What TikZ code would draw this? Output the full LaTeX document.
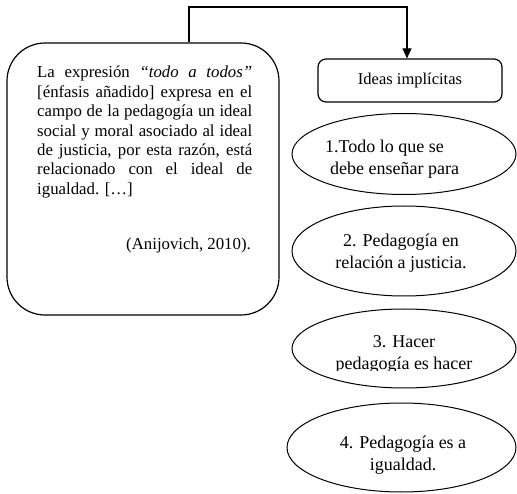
\documentclass[tikz,border=0pt]{standalone}
\usepackage{fontspec}
\setmainfont{Liberation Serif}
\usetikzlibrary{arrows.meta,shapes.geometric}
\begin{document}
\begin{tikzpicture}[x=1pt,y=-1pt,
  bigbox/.style={draw, line width=1.2pt, rounded corners=38pt, minimum width=272pt, minimum height=272pt, inner sep=0pt},
  ideabox/.style={draw, line width=1.2pt, rounded corners=8pt, minimum width=184pt, minimum height=43pt, inner sep=0pt, font=\fontsize{16.5}{19}\selectfont},
  oval/.style={draw, ellipse, line width=1pt, inner sep=0pt},
  etext/.style={inner sep=0pt, font=\fontsize{18}{22}\selectfont},
  qtext/.style={inner sep=0pt, font=\fontsize{16.8}{19.4}\selectfont},
  conn/.style={line width=1.2pt, -{Triangle[length=10pt,width=9pt]}}
]
\fill[white] (0,0) rectangle (517,494);
\useasboundingbox (0,0) rectangle (517,494);

% left quotation box
\node[bigbox] (big) at (143,179) {};
\node[qtext, anchor=base west] (quote) at (37,78) {\parbox[t]{215pt}{La expresión \textit{“todo a todos”}\linebreak{}[énfasis añadido] expresa en el\linebreak{}campo de la pedagogía un ideal\linebreak{}social y moral asociado al ideal\linebreak{}de justicia, por esta razón, está\linebreak{}relacionado con el ideal de\linebreak{}igualdad. […]}};
\node[qtext, anchor=base east] (cite) at (251,250) {(Anijovich, 2010).};

% ideas box
\node[ideabox] (ideas) at (410,80.5) {Ideas implícitas};

% connector
\coordinate (ctop) at (300,7);
\draw[conn] ([xshift=46pt]big.north) |- (ctop) -| ([xshift=-3pt]ideas.north);

% ellipses
\node[oval, minimum width=224pt, minimum height=81pt] (e1) at (404,154) {};
\node[etext, anchor=base west] (t1) at (325,153) {\parbox[t]{180pt}{\raggedright 1.Todo lo que se\\\hspace*{5pt}debe enseñar para}};

\node[oval, minimum width=224pt, minimum height=90pt] (e2) at (404,251) {};
\node[etext, anchor=base] (t2) at (401,247) {\parbox[t]{200pt}{\centering 2. Pedagogía en\\relación a justicia.}};

\node[oval, minimum width=224pt, minimum height=79pt] (e3) at (404,348.5) {};
\begin{scope}
  \clip (280,300) rectangle (517,371);
  \node[etext, anchor=base] (t3) at (404,348) {\parbox[t]{200pt}{\centering 3. Hacer\\pedagogía es hacer}};
\end{scope}

\node[oval, minimum width=229pt, minimum height=89pt] (e4) at (401.5,447.5) {};
\node[etext, anchor=base] (t4) at (403,448) {\parbox[t]{200pt}{\centering 4. Pedagogía es a\\igualdad.}};
\end{tikzpicture}
\end{document}
